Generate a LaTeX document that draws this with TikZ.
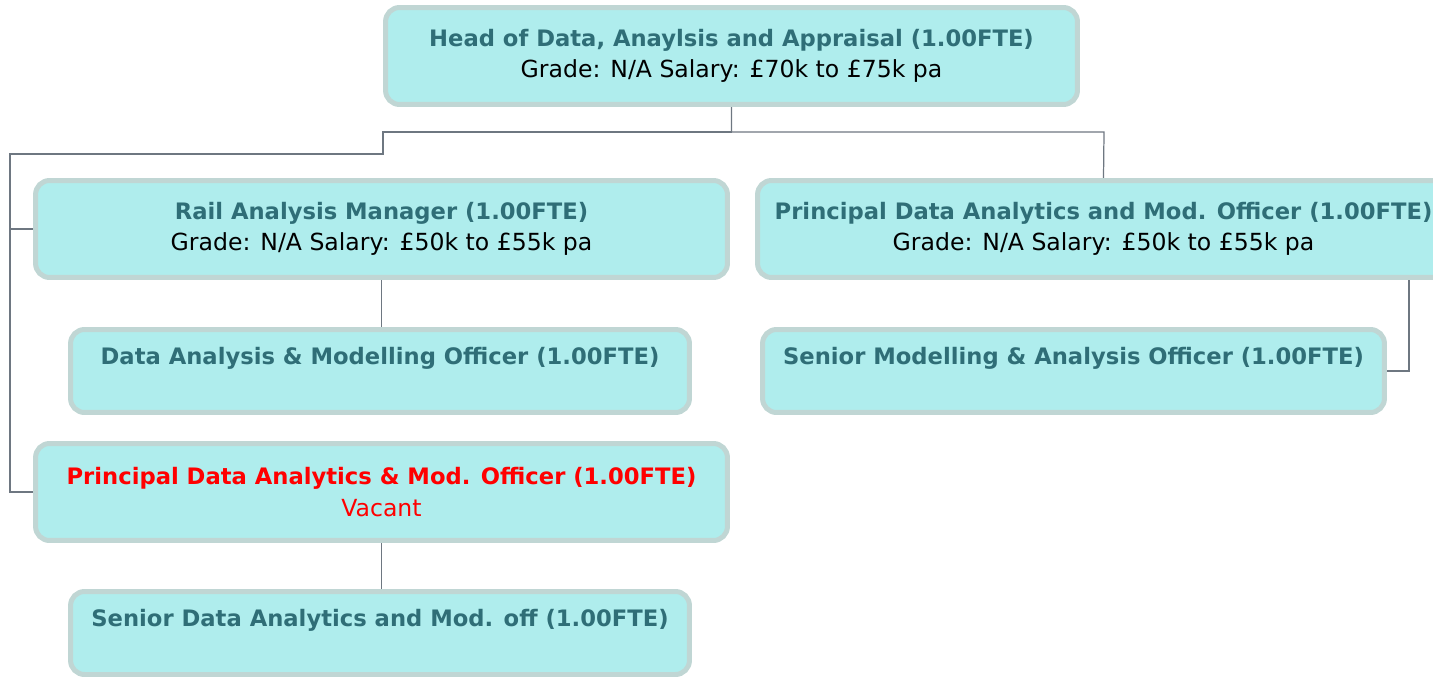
\documentclass[tikz,border=0pt]{standalone}
\usepackage{fontspec}
\setmainfont{DejaVu Sans}
\usepackage{xcolor}
\usepackage{tikz}
\usetikzlibrary{backgrounds}
\definecolor{BoxFill}{HTML}{AFEDED}
\definecolor{BoxEdge}{HTML}{C0D6D4}
\definecolor{TitleTeal}{HTML}{2F6E77}
\definecolor{LinkGrey}{HTML}{6E7781}
\newcommand{\postname}[1]{{\fontsize{12.9}{18}\selectfont\bfseries #1}}

\begin{document}
\begin{tikzpicture}[
      x=0.02cm, y=-0.02cm,
      every node/.style={align=center},
      post/.style={draw=BoxEdge, fill=BoxFill, line width=0.1cm, rounded corners=0.28cm,
        inner sep=0pt, font=\fontsize{13.4}{18}\selectfont},
      wide/.style={post, minimum width=13.84cm, minimum height=1.94cm},
      narrow/.style={post, minimum width=12.38cm, minimum height=1.66cm},
      link/.style={LinkGrey, line width=0.7pt}
    ]
      \clip (0,0) rectangle (1433,676);
      \node[wide] (head) at (731.5,56) {\textcolor{TitleTeal}{\postname{Head of Data, Anaylsis and Appraisal (1.00FTE)}}\\Grade: N/A Salary: £70k to £75k pa};
      \node[wide] (rail) at (381.5,229) {\textcolor{TitleTeal}{\postname{Rail Analysis Manager (1.00FTE)}}\\Grade: N/A Salary: £50k to £55k pa};
      \node[wide] (prin) at (1103.5,229) {\textcolor{TitleTeal}{\postname{Principal Data Analytics and Mod. Officer (1.00FTE)}}\\Grade: N/A Salary: £50k to £55k pa};
      \node[narrow] (dam) at (380,371) {\textcolor{TitleTeal}{\postname{Data Analysis \& Modelling Officer (1.00FTE)}}\\[-6pt]\strut};
      \node[narrow, minimum width=12.44cm] (sma) at (1073.5,371) {\textcolor{TitleTeal}{\postname{Senior Modelling \& Analysis Officer (1.00FTE)}}\\[-6pt]\strut};
      \node[wide] (vacant) at (381.5,492) {\textcolor{red}{\postname{Principal Data Analytics \& Mod. Officer (1.00FTE)}}\\\textcolor{red}{Vacant}};
      \node[narrow] (sda) at (380,633) {\textcolor{TitleTeal}{\postname{Senior Data Analytics and Mod. off (1.00FTE)}}\\[-6pt]\strut};
      \coordinate (spine) at (10,154);
      \coordinate (drop) at (1409,280);
      % reporting lines
      \begin{scope}[on background layer]
        \draw[link] (head.south) |- (383,132) -- (383,154) -| (vacant.west -| spine) -- (vacant.west);
        \draw[link] (rail.west -| spine) -- (rail.west);
        \draw[link] (head.south) |- (1104,132) -- (prin.north);
        \draw[link] (rail.south) -- (rail.south |- dam.north);
        \draw[link] (drop) |- (sma.east);
        \draw[link] (vacant.south) -- (vacant.south |- sda.north);
      \end{scope}
    \end{tikzpicture}
\end{document}
